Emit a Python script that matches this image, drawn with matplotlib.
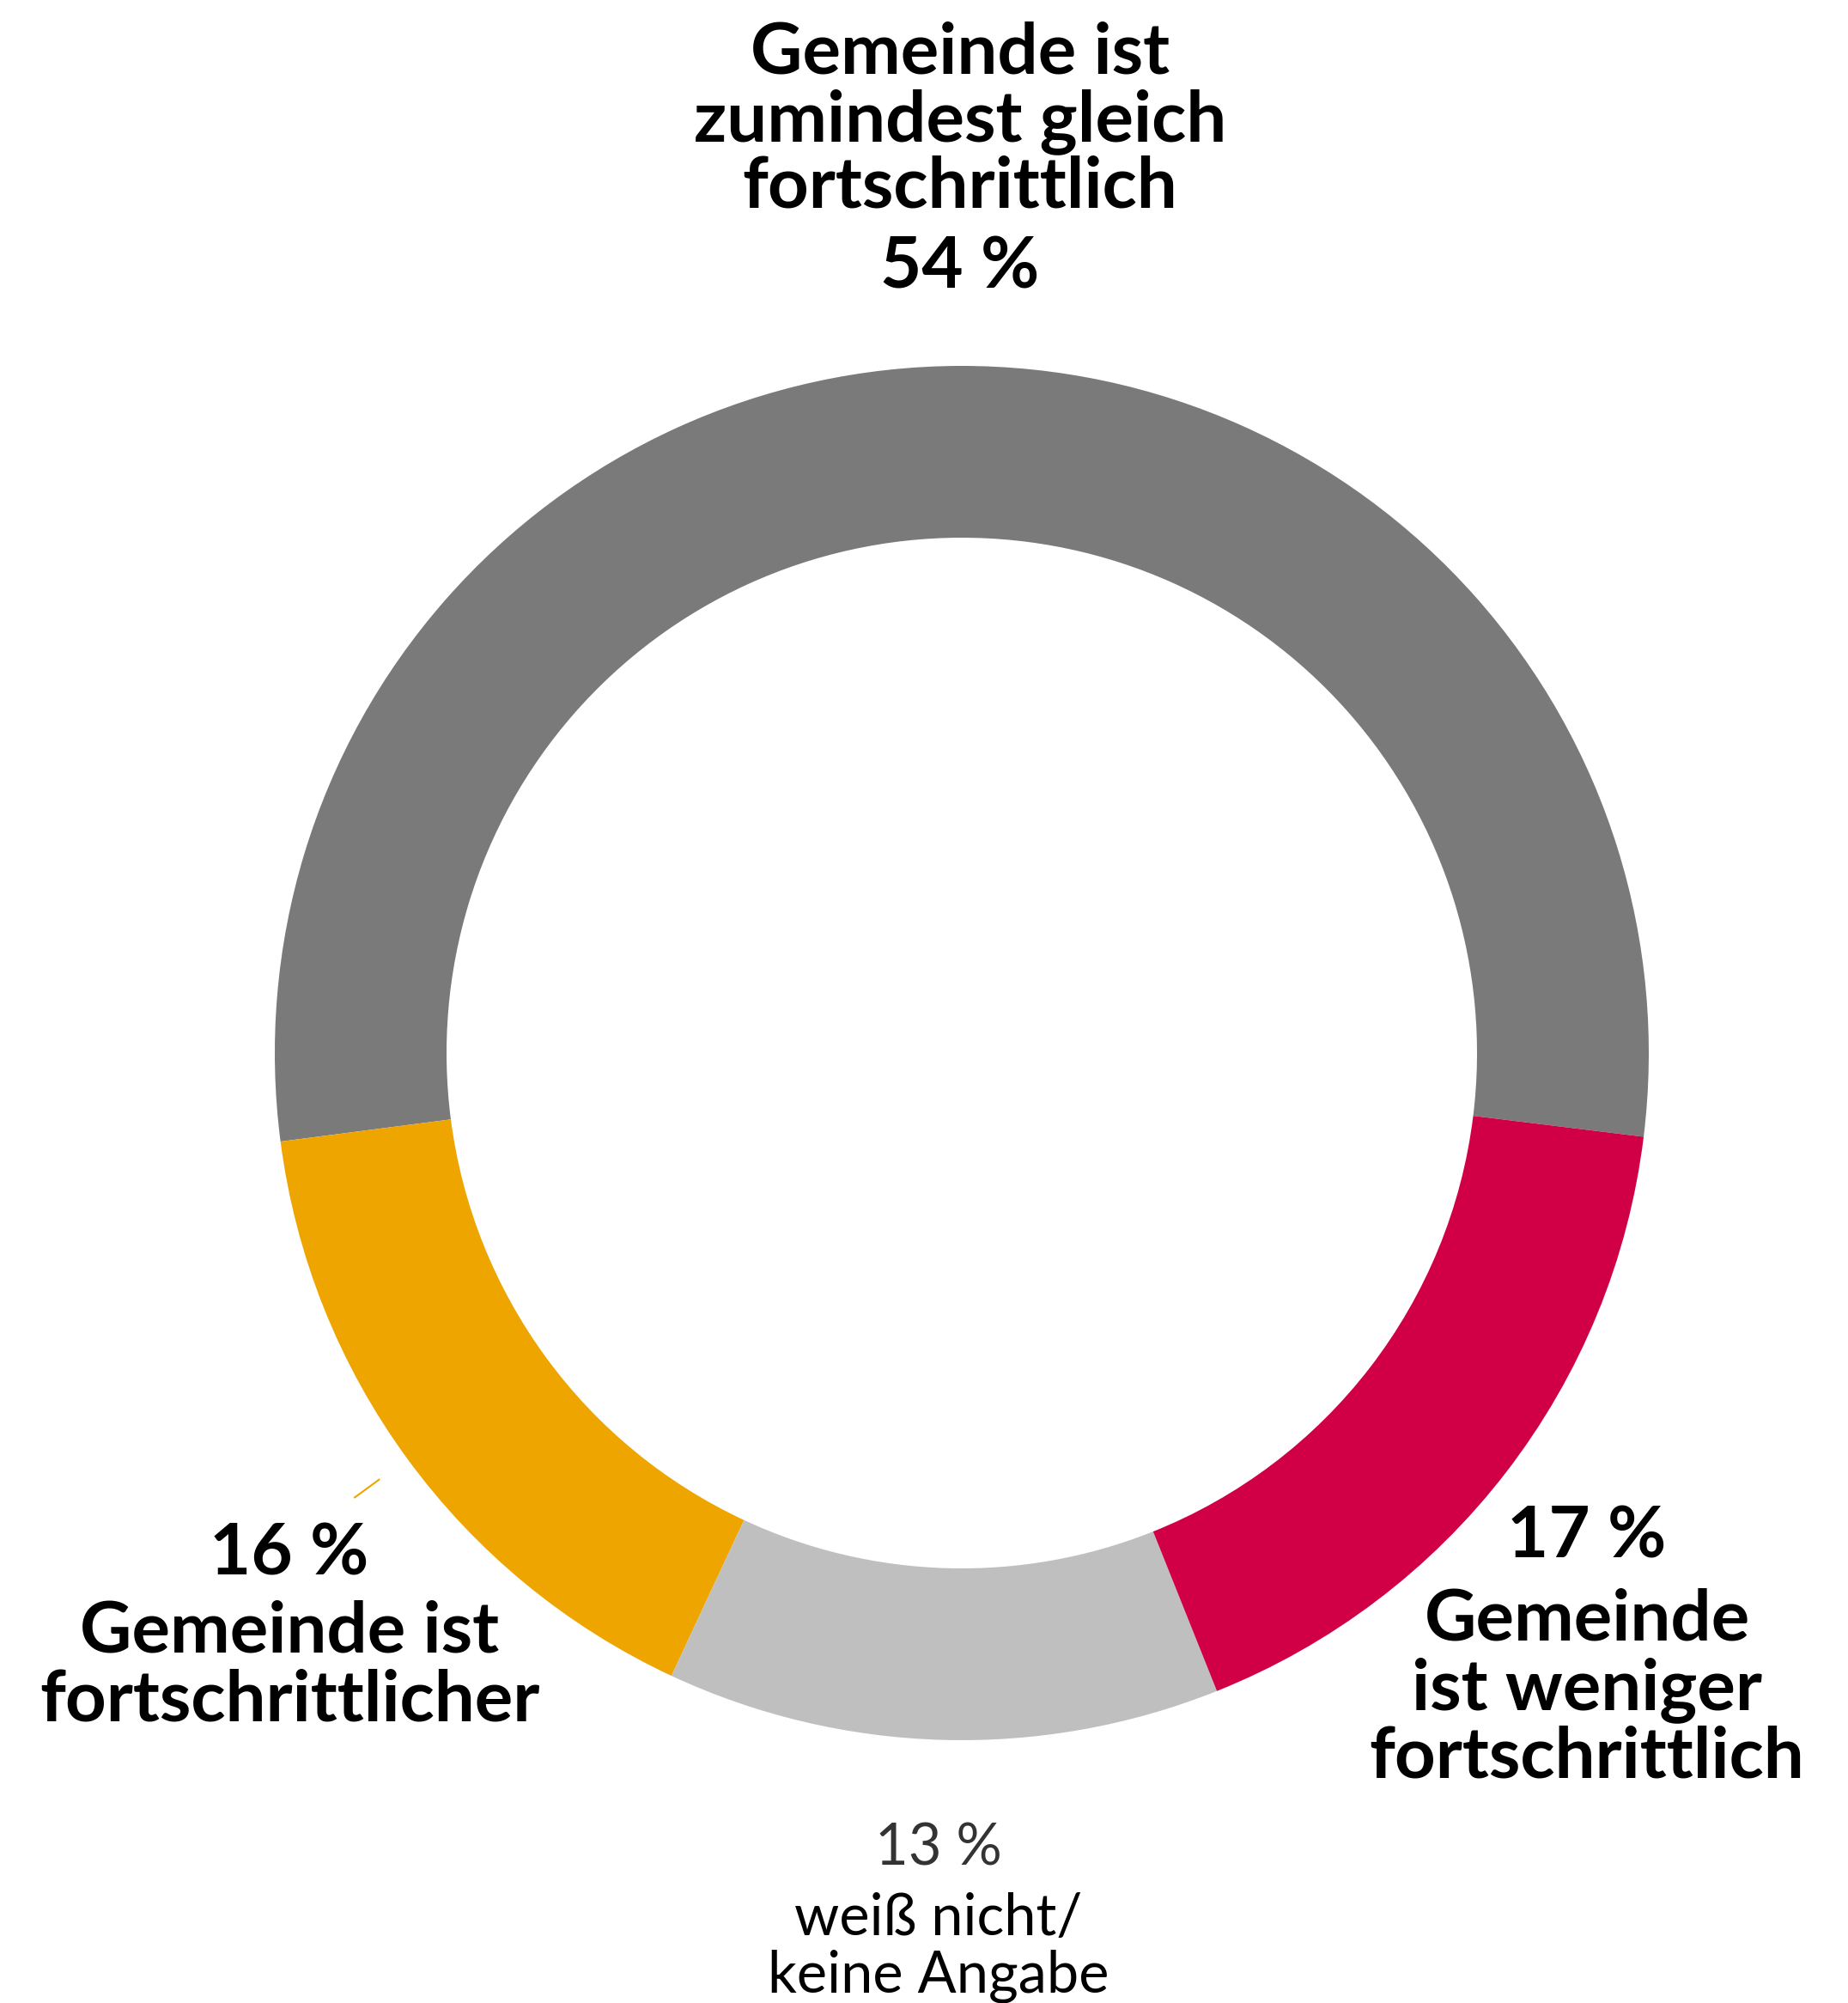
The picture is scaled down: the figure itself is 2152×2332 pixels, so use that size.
import matplotlib.pyplot as plt
import numpy as np

# Anteile in Prozent, Reihenfolge gegen den Uhrzeigersinn ab rechts
categories = ["zumindest gleich", "fortschrittlicher", "weiß nicht", "weniger fortschrittlich"]
shares = [54, 16, 13, 17]
colors = ["#7A7A7A", "#EFA500", "#BFBFBF", "#D10046"]

top_lines = ["Gemeinde ist", "zumindest gleich", "fortschrittlich", "54 %"]
left_lines = ["16 %", "Gemeinde ist", "fortschrittlicher"]
right_lines = ["17 %", "Gemeinde", "ist weniger", "fortschrittlich"]
bottom_lines = ["13 %", "weiß nicht/", "keine Angabe"]

W, H = 2152, 2332
fig = plt.figure(figsize=(W / 100, H / 100), dpi=100)
ax = fig.add_axes([0, 0, 1, 1])

cx, cy = 1120, H - 1226
r_out, ring = 800, 200

wedges, _ = ax.pie(shares, colors=colors, startangle=-7, counterclock=True,
                   radius=r_out, center=(cx, cy),
                   wedgeprops=dict(width=ring, linewidth=0))
ax.set_xlim(0, W)
ax.set_ylim(0, H)
ax.set_aspect("equal")
ax.axis("off")

# kleine Hinweislinie am orangefarbenen Segment
w = wedges[1]
mid = np.deg2rad((w.theta1 + w.theta2) / 2)
ax.plot([cx + 840 * np.cos(mid), cx + 877 * np.cos(mid)],
        [cy + 840 * np.sin(mid), cy + 877 * np.sin(mid)],
        color=colors[1], lw=1.5, solid_capstyle="butt")

bold = dict(family="Lato", weight="bold", fontsize=60, color="black",
            ha="center", va="baseline")


def put_lines(lines, x, baselines, **kw):
    for txt, y in zip(lines, baselines):
        ax.text(x, H - y, txt, **kw)


put_lines(top_lines, 1118, [85, 164, 242, 335], **bold)
put_lines(left_lines, 337, [1833, 1923, 2004], **bold)
put_lines(right_lines, 1848, [1814, 1909, 1990, 2070], **bold)

regular = dict(family="Lato", weight="normal", fontsize=48,
               ha="center", va="baseline")
ax.text(1093, H - 2171, bottom_lines[0], color="#333333", **regular)
put_lines(bottom_lines[1:], 1093, [2253, 2320], color="black", **regular)

fig.savefig("out.png", dpi=100, facecolor="white")
